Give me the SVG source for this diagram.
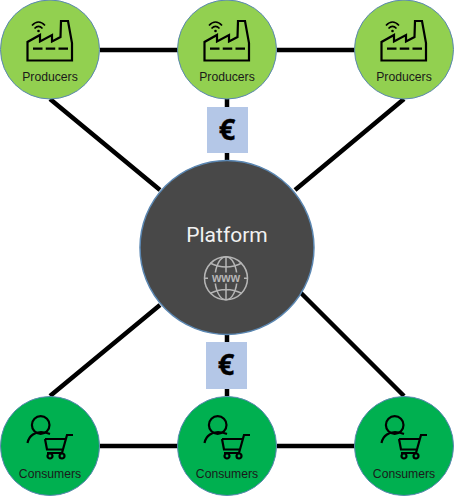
<svg xmlns="http://www.w3.org/2000/svg" width="454" height="496" viewBox="0 0 454 496">
<style>
.c{stroke:#000;stroke-width:4.500;fill:none}
.p{fill:#92d050;stroke:#5b87b2;stroke-width:1}
.k{fill:#00b050;stroke:#5b87b2;stroke-width:1}
.l{font-family:"Liberation Sans",Arial,sans-serif;font-size:12.200px;fill:#1a1a1a;text-anchor:middle}
.i{fill:none;stroke:#000;stroke-width:2.200}
.d{fill:none;stroke:#000;stroke-width:2.200;stroke-dasharray:9.500 3.250}
.w{fill:none;stroke:#000;stroke-width:1.700}
.e{fill:#b4c7e7}
.u{font-family:"Open Sans","DejaVu Sans",sans-serif;font-weight:700;font-size:29px;fill:#000;stroke:#000;stroke-width:.4;text-anchor:middle}
</style>
<defs>
<g id="factory">
<path class="i" d="M-22.500 60.500V42L-10 35V41.500L2 35V41.500L10.500 37L11 21H18L22 43V60.500Z"/>
<path class="d" d="M-17 48.700H18.500"/>
<path class="w" d="M-18 25.500Q-11.500 18.500-5 25.500M-15.500 28.500Q-11.500 24.500-7.500 28.500"/>
<circle cx="-11.500" cy="31" r="1.300"/>
</g>
<g id="shopper">
<circle class="i" cx="-9.300" cy="-31" r="8.800"/>
<path class="i" d="M-22.500 -13C-21 -21-14 -24-9 -24C-5 -24-3 -23 0 -22"/>
<path class="i" d="M23 -21H17L12 -3H-3M-5 -17H16M-5 -17L-3 -6.500H13"/>
<circle class="i" cx="0" cy="0" r="2.500"/>
<circle class="i" cx="12" cy="0" r="2.500"/>
</g>
</defs>
<g id="connectors">
<path class="c" d="M100 50H178M277 50H355M227 98V161M227 334V396M100 446H178M277 446H355"/>
<path class="c" d="M50 99L160 190M404 99L295 190M160 305L50 396M300 292L404 396"/>
</g>
<g id="producer-1"><circle class="p" cx="50" cy="49.500" r="49.500"/><use href="#factory" x="50" y="0"/><text class="l" x="50" y="81">Producers</text></g>
<g id="producer-2"><circle class="p" cx="227" cy="49.500" r="49.500"/><use href="#factory" x="227" y="0"/><text class="l" x="227" y="81">Producers</text></g>
<g id="producer-3"><circle class="p" cx="404" cy="49.500" r="49.500"/><use href="#factory" x="404" y="0"/><text class="l" x="404" y="81">Producers</text></g>
<g id="platform">
<circle cx="227" cy="247.500" r="87" fill="#484848" stroke="#5b87b2" stroke-width="1.500"/>
<text x="227" y="242" font-family="Roboto,'Liberation Sans',sans-serif" font-size="21" fill="#f2f2f2" text-anchor="middle">Platform</text>
<g fill="none" stroke="#b5b5b5" stroke-width="1.500">
<circle cx="226" cy="278.300" r="21.500"/>
<ellipse cx="226" cy="278.300" rx="11" ry="21.500"/>
<path d="M226 256.800V299.800M210 263Q226 271 242 263M210 293.500Q226 285.500 242 293.500M204.500 278.300H208M244 278.300H247.500"/>
</g>
<rect x="210" y="272.500" width="32" height="11" fill="#484848"/>
<text x="226" y="282" font-family="'Liberation Sans',sans-serif" font-weight="700" font-size="12" fill="#b5b5b5" text-anchor="middle">www</text>
</g>
<g id="euro-top"><rect class="e" x="207" y="107" width="41" height="46"/><text class="u" x="227" y="140">€</text></g>
<g id="euro-bottom"><rect class="e" x="206" y="342" width="41" height="47"/><text class="u" x="226" y="375">€</text></g>
<g id="consumer-1"><circle class="k" cx="50" cy="446" r="49.500"/><use href="#shopper" x="50" y="456"/><text class="l" x="50" y="478">Consumers</text></g>
<g id="consumer-2"><circle class="k" cx="227" cy="446" r="49.500"/><use href="#shopper" x="227" y="456"/><text class="l" x="227" y="478">Consumers</text></g>
<g id="consumer-3"><circle class="k" cx="404" cy="446" r="49.500"/><use href="#shopper" x="404" y="456"/><text class="l" x="404" y="478">Consumers</text></g>
</svg>
